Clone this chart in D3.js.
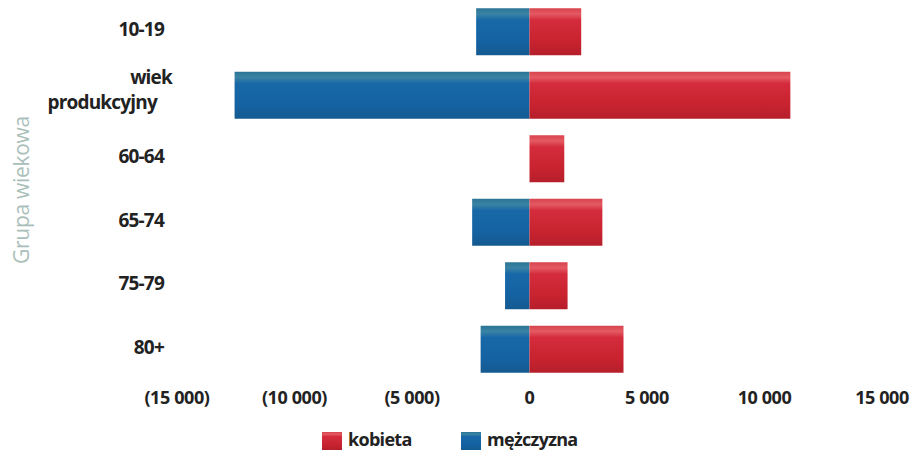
<!DOCTYPE html>
<html><head><meta charset="utf-8">
<script src="https://cdn.jsdelivr.net/npm/d3@7"></script>
<style>body{margin:0;background:#fff}svg{display:block}</style>
</head><body><svg id="c" width="911" height="457"></svg>
<script>
const categories = ["10-19", "wiek produkcyjny", "60-64", "65-74", "75-79", "80+"];
const kobieta = [2200, 11100, 1480, 3100, 1620, 4000];
const mezczyzna = [2270, 12550, 0, 2440, 1040, 2080];
const ticks = [-15000, -10000, -5000, 0, 5000, 10000, 15000];
const seriesNames = ["kobieta", "mężczyzna"];

const svg = d3.select("#c");
const x = d3.scaleLinear().domain([-15000, 15000]).range([177, 882]);
const y = d3.scaleBand().domain(categories).range([0, 381]).paddingInner(0.26).paddingOuter(0.13);

const defs = svg.append("defs");
function grad(id, stops) {
  const g = defs.append("linearGradient").attr("id", id).attr("x1", 0).attr("x2", 0).attr("y1", 0).attr("y2", 1);
  stops.forEach(s => g.append("stop").attr("offset", s[0]).attr("stop-color", s[1]));
}
grad("gr", [[0, "#d8434d"], [0.12, "#e45a63"], [0.25, "#d42c3c"], [0.7, "#c8232f"], [1, "#b51f2b"]]);
grad("gb", [[0, "#2a7497"], [0.12, "#3a83a3"], [0.25, "#1868a8"], [0.7, "#1562a2"], [1, "#145a90"]]);

const fam = "'Open Sans', 'Noto Sans', sans-serif";

// bars
svg.append("g").selectAll("rect").data(categories).join("rect")
  .attr("x", (d, i) => x(-mezczyzna[i]))
  .attr("width", (d, i) => x(0) - x(-mezczyzna[i]))
  .attr("y", d => y(d)).attr("height", y.bandwidth())
  .attr("fill", "url(#gb)");
svg.append("g").selectAll("rect").data(categories).join("rect")
  .attr("x", x(0))
  .attr("width", (d, i) => x(kobieta[i]) - x(0))
  .attr("y", d => y(d)).attr("height", y.bandwidth())
  .attr("fill", "url(#gr)");

// y labels
const yl = svg.append("g").attr("font-family", fam).attr("font-weight", 700).attr("font-size", 19).attr("fill", "#222").attr("letter-spacing", -0.8);
categories.forEach(c => {
  const cy = y(c) + y.bandwidth() / 2;
  if (c === "wiek produkcyjny") {
    yl.append("text").attr("x", 172).attr("y", cy - 18).attr("dy", "0.35em").attr("text-anchor", "end").text("wiek");
    yl.append("text").attr("x", 157).attr("y", cy + 7).attr("dy", "0.35em").attr("text-anchor", "end").text("produkcyjny");
  } else {
    yl.append("text").attr("x", 164).attr("y", cy - 2).attr("dy", "0.35em").attr("text-anchor", "end").text(c);
  }
});

// x ticks
const fmt = v => {
  const s = d3.format(",")(Math.abs(v)).replace(/,/g, " ");
  return v < 0 ? "(" + s + ")" : s;
};
svg.append("g").attr("font-family", fam).attr("font-weight", 700).attr("font-size", 18).attr("fill", "#222").attr("letter-spacing", -0.4)
  .selectAll("text").data(ticks).join("text")
  .attr("x", d => x(d)).attr("y", 398).attr("dy", "0.35em").attr("text-anchor", "middle").text(fmt);

// axis title
svg.append("text").attr("transform", "translate(29,190) rotate(-90)").attr("text-anchor", "middle")
  .attr("font-family", fam).attr("font-size", 21).attr("fill", "#aabfba").attr("letter-spacing", -0.3).text("Grupa wiekowa");

// legend
const leg = svg.append("g").attr("font-family", fam).attr("font-weight", 700).attr("font-size", 18).attr("fill", "#222").attr("letter-spacing", -0.7);
const lx = [322, 461], lf = ["url(#gr)", "url(#gb)"];
seriesNames.forEach((n, i) => {
  leg.append("rect").attr("x", lx[i]).attr("y", 432).attr("width", 20).attr("height", 18).attr("fill", lf[i]);
  leg.append("text").attr("x", lx[i] + 26).attr("y", 440).attr("dy", "0.35em").text(n);
});
</script></body></html>
